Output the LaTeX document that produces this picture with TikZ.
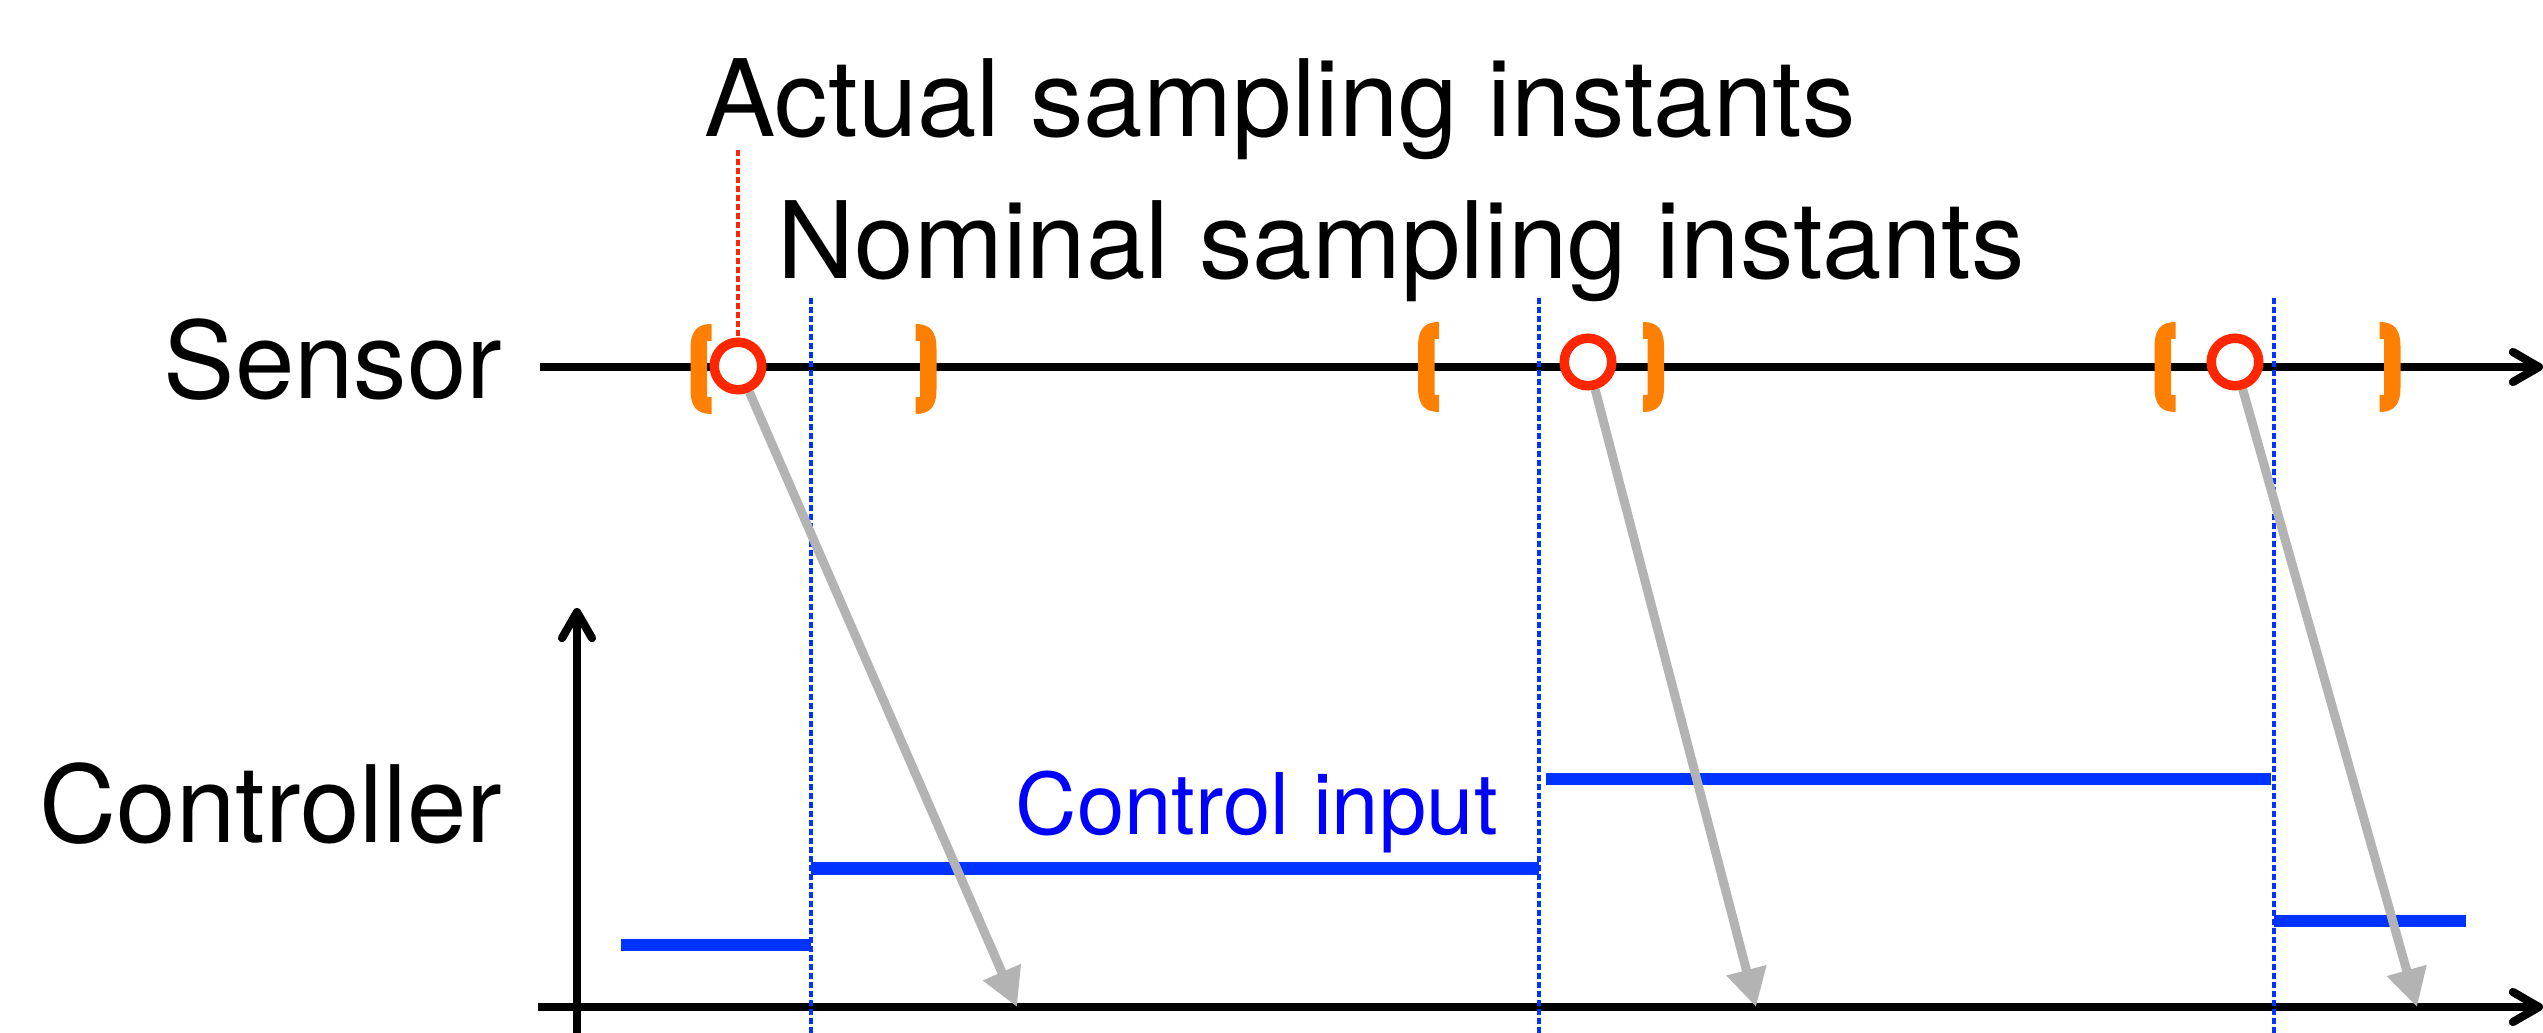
\documentclass[tikz,border=0pt]{standalone}
\usepackage{fontspec}
\setmainfont{TeX Gyre Heros}
\usetikzlibrary{arrows.meta}
\definecolor{ctrlblue}{RGB}{0,51,255}
\definecolor{txtblue}{RGB}{0,0,255}
\definecolor{sampred}{RGB}{255,38,0}
\definecolor{brkorange}{RGB}{255,128,0}
\definecolor{arrgray}{RGB}{179,179,179}
\pgfdeclarelayer{bg}
\pgfdeclarelayer{mid}
\pgfsetlayers{bg,mid,main}
\begin{document}
\begin{tikzpicture}[x=0.1mm,y=-0.1mm,
  axisline/.style={line width=0.82mm,-{Straight Barb[length=2.6mm,width=3.0mm,round]}},
  nomline/.style={ctrlblue,line width=0.32mm,dash pattern=on 0.6mm off 0.3mm},
  actline/.style={sampred,line width=0.32mm,dash pattern=on 0.6mm off 0.3mm},
  ctrlseg/.style={ctrlblue,line width=1.22mm},
  grayarr/.style={arrgray,line width=0.9mm,-{Triangle[length=3.8mm,width=3.9mm]}},
  ring/.style={circle,draw=sampred,line width=0.95mm,fill=white,minimum size=4.75mm,inner sep=0pt},
  lbl/.style={font=\fontsize{30.4}{36}\selectfont,inner sep=0pt},
  openbrk/.pic={\fill[brkorange] (6,0) -- (6,-28) -- (10.5,-28) -- (10.5,-45)
      .. controls (-4,-45) and (-10.5,-38) .. (-10.5,-20) -- (-10.5,20)
      .. controls (-10.5,38) and (-4,45) .. (10.5,45) -- (10.5,28) -- (6,28) -- cycle;}
]
\useasboundingbox (0,0) rectangle (2543,1033);

% coordinates
\coordinate (sL) at (540,367);
\coordinate (sR) at (2543,367);
\coordinate (hL) at (538,1007);
\coordinate (hR) at (2543,1007);
\coordinate (vB) at (577,1045);
\coordinate (vT) at (577,608);
\coordinate (n1t) at (811,298);  \coordinate (n1b) at (811,1045);
\coordinate (n2t) at (1539,298); \coordinate (n2b) at (1539,1045);
\coordinate (n3t) at (2274,298); \coordinate (n3b) at (2274,1045);
\coordinate (a1t) at (738,150);
\coordinate (t1) at (1017,1007);
\coordinate (t2) at (1756,1007);
\coordinate (t3) at (2417,1007);
\coordinate (u1a) at (621,945);  \coordinate (u1b) at (811,945);
\coordinate (u2a) at (811,868.5); \coordinate (u2b) at (1539,868.5);
\coordinate (u3a) at (1546,779); \coordinate (u3b) at (2271,779);
\coordinate (u4a) at (2274,921); \coordinate (u4b) at (2466,921);

\begin{pgfonlayer}{bg}
  \draw[axisline] (sL) -- (sR);
  \draw[axisline] (hL) -- (hR);
  \draw[axisline] (vB) -- (vT);
  \draw[nomline] (n1t) -- (n1b);
  \draw[nomline] (n2t) -- (n2b);
  \draw[nomline] (n3t) -- (n3b);
  \draw[ctrlseg] (u1a) -- (u1b);
  \draw[ctrlseg] (u2a) -- (u2b);
  \draw[ctrlseg] (u3a) -- (u3b);
  \draw[ctrlseg] (u4a) -- (u4b);
\end{pgfonlayer}

% sampling circles
\node[ring] (c1) at (738,366) {};
\node[ring] (c2) at (1588,362) {};
\node[ring] (c3) at (2235,362) {};

\begin{pgfonlayer}{mid}
  \draw[grayarr] (c1) -- (t1);
  \draw[grayarr] (c2) -- (t2);
  \draw[grayarr] (c3) -- (t3);
\end{pgfonlayer}

\draw[actline] (a1t) -- (c1);

% brackets
\pic (b1l) at (701,369) {openbrk};
\pic[xscale=-1] (b1r) at (926,369) {openbrk};
\pic (b2l) at (1428.5,367) {openbrk};
\pic[xscale=-1] (b2r) at (1653.5,367) {openbrk};
\pic (b3l) at (2165,367) {openbrk};
\pic[xscale=-1] (b3r) at (2390,367) {openbrk};

% texts
\node[lbl,anchor=base west] (actual) at (704,137) {Actual sampling instants};
\node[lbl,anchor=base west] (nominal) at (777,279) {Nominal sampling instants};
\node[lbl,anchor=base east] (sensor) at (503,399) {Sensor};
\node[lbl,anchor=base east] (controller) at (503,842) {Controller};
\node[lbl,font=\fontsize{24.2}{29}\selectfont,text=txtblue,anchor=base west] (cinput) at (1015,834) {Control input};
\end{tikzpicture}
\end{document}
